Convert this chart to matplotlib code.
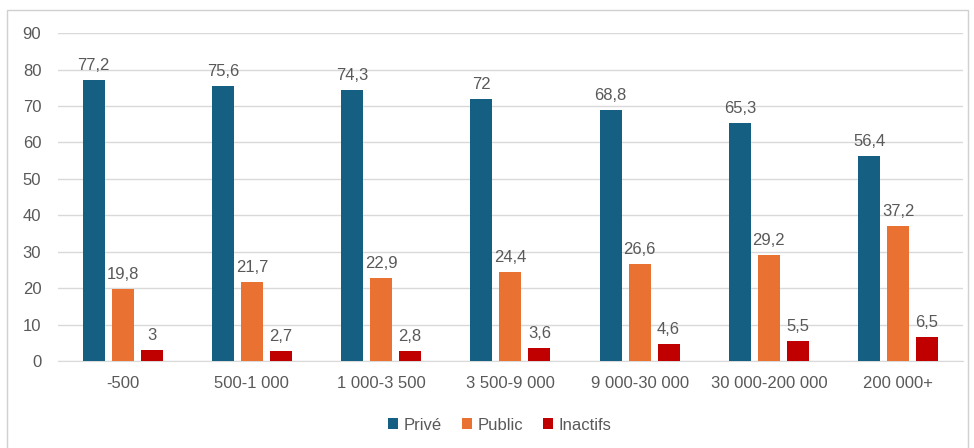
import matplotlib
matplotlib.use("Agg")
import matplotlib.pyplot as plt
from matplotlib.patches import Rectangle
import numpy as np

categories = ["-500", "500-1 000", "1 000-3 500", "3 500-9 000", "9 000-30 000",
              "30 000-200 000", "200 000+"]
prive = [77.2, 75.6, 74.3, 72, 68.8, 65.3, 56.4]
public = [19.8, 21.7, 22.9, 24.4, 26.6, 29.2, 37.2]
inactifs = [3, 2.7, 2.8, 3.6, 4.6, 5.5, 6.5]

series = [("Privé", prive, "#156082"),
          ("Public", public, "#E97132"),
          ("Inactifs", inactifs, "#C00000")]

text_color = "#595959"
grid_color = "#D9D9D9"
fs = 12

plt.rcParams["font.family"] = ["Liberation Sans", "DejaVu Sans"]

fig = plt.figure(figsize=(9.74, 4.48), dpi=100)
ax = fig.add_axes([0.0595, 0.194, 0.929, 0.732])

# chart frame
fig.patches.append(Rectangle((7 / 974, -0.05), (968 - 7) / 974, 1.05 - 10 / 448,
                             transform=fig.transFigure, fill=False,
                             edgecolor="#D0D0D0", linewidth=1.0))

x = np.arange(len(categories))
width = 0.17
step = 0.224

def fmt(v):
    return f"{v:g}".replace(".", ",")

for i, (name, vals, col) in enumerate(series):
    pos = x + (i - 1) * step
    bars = ax.bar(pos, vals, width, color=col, label=name, zorder=3)
    for b, v in zip(bars, vals):
        ax.annotate(fmt(v), (b.get_x() + b.get_width() / 2, v),
                    xytext=(0, 5), textcoords="offset points",
                    ha="center", va="bottom", fontsize=fs, color=text_color)

ax.set_xlim(-0.5, len(categories) - 0.5)
ax.set_ylim(0, 90)
ax.set_yticks(range(0, 91, 10))
ax.set_xticks(x)
ax.set_xticklabels(categories)
ax.yaxis.grid(True, color=grid_color, linewidth=1.0, zorder=0)
ax.set_axisbelow(True)
for s in ["top", "right", "left"]:
    ax.spines[s].set_visible(False)
ax.spines["bottom"].set_color(grid_color)
ax.tick_params(axis="both", length=0, labelsize=fs, colors=text_color)
ax.tick_params(axis="x", pad=11)
ax.tick_params(axis="y", pad=12)

leg = fig.legend(loc="center", ncol=3, frameon=False,
                 fontsize=fs, handlelength=0.6, handleheight=0.6,
                 handletextpad=0.35, columnspacing=1.2, labelcolor=text_color)
leg.set_bbox_to_anchor((0.513, (448 - 425) / 448), transform=fig.transFigure)

fig.savefig("out.png", dpi=100)
